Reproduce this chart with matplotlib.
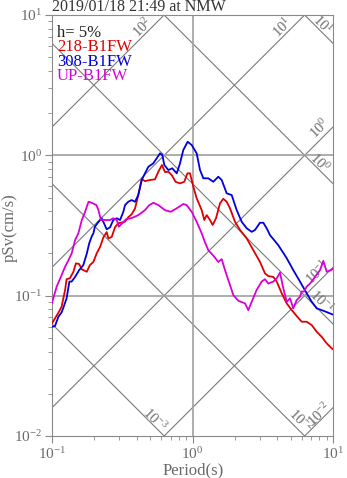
import matplotlib
matplotlib.use("Agg")
import matplotlib.pyplot as plt
import numpy as np

plt.rcParams["font.family"] = ["Liberation Serif", "DejaVu Serif"]
plt.rcParams["mathtext.fontset"] = "custom"
plt.rcParams["mathtext.rm"] = "Liberation Serif"
plt.rcParams["mathtext.it"] = "Liberation Serif:italic"
plt.rcParams["mathtext.default"] = "regular"

title = "2019/01/18 21:49 at NMW"
damping = "h= 5%"
names = ["218-B1FW", "308-B1FW", "UP-B1FW"]
colors = ["#e00000", "#0000e0", "#d800d8"]

# pseudo velocity response spectra, period (s) vs pSv (cm/s)
t_218 = [0.100, 0.105, 0.111, 0.117, 0.124, 0.127, 0.134, 0.142, 0.148, 0.156,
         0.163, 0.177, 0.186, 0.197, 0.208, 0.220, 0.232, 0.245, 0.252, 0.266,
         0.281, 0.296, 0.313, 0.331, 0.349, 0.369, 0.390, 0.411, 0.435, 0.459,
         0.498, 0.541, 0.571, 0.606, 0.637, 0.673, 0.714, 0.757, 0.815, 0.874,
         0.920, 0.960, 1.013, 1.071, 1.163, 1.213, 1.262, 1.332, 1.392, 1.470,
         1.569, 1.656, 1.751, 1.849, 2.007, 2.178, 2.431, 2.709, 3.023, 3.281,
         3.463, 3.759, 3.975, 4.314, 4.682, 5.083, 5.516, 5.987, 6.498, 7.054,
         7.656, 8.310, 9.021, 9.789, 10.0]
sv_218 = [0.0635, 0.0689, 0.0755, 0.0834, 0.110, 0.131, 0.133, 0.148, 0.170, 0.168,
          0.154, 0.148, 0.165, 0.174, 0.200, 0.223, 0.260, 0.284, 0.256, 0.262,
          0.308, 0.328, 0.332, 0.337, 0.362, 0.380, 0.418, 0.521, 0.676, 0.655,
          0.667, 0.675, 0.764, 0.853, 0.760, 0.764, 0.720, 0.648, 0.631, 0.648,
          0.744, 0.744, 0.600, 0.494, 0.407, 0.346, 0.375, 0.346, 0.319, 0.356,
          0.455, 0.490, 0.467, 0.419, 0.336, 0.294, 0.256, 0.211, 0.174, 0.144,
          0.138, 0.136, 0.126, 0.104, 0.0881, 0.0789, 0.0716, 0.0652, 0.0652, 0.0617,
          0.0553, 0.0509, 0.0457, 0.0421, 0.0415]

t_308 = [0.100, 0.105, 0.111, 0.117, 0.120, 0.127, 0.133, 0.138, 0.146, 0.156,
         0.167, 0.177, 0.184, 0.192, 0.197, 0.202, 0.214, 0.226, 0.245, 0.259,
         0.273, 0.289, 0.305, 0.322, 0.331, 0.349, 0.369, 0.390, 0.411, 0.435,
         0.459, 0.485, 0.526, 0.556, 0.587, 0.610, 0.630, 0.673, 0.718, 0.772,
         0.815, 0.860, 0.924, 0.987, 1.071, 1.131, 1.194, 1.296, 1.406, 1.526,
         1.614, 1.751, 1.901, 2.063, 2.240, 2.431, 2.639, 2.785, 3.023, 3.191,
         3.374, 3.561, 4.080, 4.682, 5.217, 5.822, 6.498, 7.054, 7.656, 8.531,
         9.789, 10.0]
sv_308 = [0.0600, 0.0607, 0.0707, 0.0760, 0.0812, 0.0957, 0.126, 0.126, 0.136, 0.152,
          0.165, 0.200, 0.236, 0.265, 0.278, 0.310, 0.335, 0.356, 0.297, 0.307,
          0.346, 0.356, 0.346, 0.396, 0.442, 0.467, 0.480, 0.467, 0.521, 0.667,
          0.744, 0.829, 0.877, 0.952, 1.033, 1.005, 0.853, 0.786, 0.808, 0.744,
          0.877, 1.091, 1.250, 1.184, 1.033, 0.786, 0.686, 0.686, 0.648, 0.704,
          0.667, 0.536, 0.521, 0.407, 0.336, 0.302, 0.285, 0.294, 0.331, 0.331,
          0.302, 0.270, 0.229, 0.185, 0.152, 0.126, 0.104, 0.0905, 0.0812, 0.0781,
          0.0739, 0.0733]

t_up = [0.100, 0.108, 0.117, 0.124, 0.131, 0.138, 0.146, 0.154, 0.163, 0.172,
        0.182, 0.192, 0.207, 0.214, 0.223, 0.238, 0.259, 0.273, 0.289, 0.299,
        0.318, 0.336, 0.359, 0.379, 0.411, 0.459, 0.493, 0.526, 0.571, 0.637,
        0.700, 0.772, 0.860, 0.909, 0.987, 1.071, 1.163, 1.227, 1.296, 1.406,
        1.526, 1.614, 1.703, 1.849, 1.952, 2.118, 2.364, 2.496, 2.639, 2.864,
        3.108, 3.281, 3.463, 3.759, 3.975, 4.195, 4.428, 4.682, 4.943, 5.217,
        5.516, 5.822, 5.987, 6.217, 6.498, 6.860, 7.446, 8.082, 8.531, 9.021,
        9.789, 10.0]
sv_up = [0.0890, 0.116, 0.140, 0.161, 0.179, 0.200, 0.249, 0.278, 0.346, 0.396,
         0.467, 0.459, 0.442, 0.407, 0.346, 0.346, 0.346, 0.356, 0.346, 0.310,
         0.330, 0.350, 0.355, 0.361, 0.375, 0.407, 0.442, 0.459, 0.442, 0.407,
         0.396, 0.419, 0.450, 0.442, 0.396, 0.336, 0.278, 0.240, 0.211, 0.193,
         0.174, 0.182, 0.152, 0.119, 0.101, 0.0920, 0.0881, 0.0789, 0.0905, 0.110,
         0.126, 0.131, 0.122, 0.126, 0.133, 0.146, 0.113, 0.0905, 0.0957, 0.0812,
         0.0930, 0.0982, 0.107, 0.107, 0.116, 0.122, 0.136, 0.152, 0.177, 0.148,
         0.153, 0.156]

# tripartite grid: displacement (cm) and acceleration (cm/s^2) levels
disp_levels = [1e-3, 1e-2, 1e-1, 1e0, 1e1]
acc_levels = [1e-2, 1e-1, 1e0, 1e1, 1e2]

W, H = 347, 478
fig = plt.figure(figsize=(W / 100, H / 100), dpi=100)
ax = fig.add_axes([52 / W, 1 - 436 / H, 281 / W, 421 / H])
ax.set_xscale("log")
ax.set_yscale("log")
ax.set_xlim(0.1, 10)
ax.set_ylim(0.01, 10)

diag_col = "#7a7a7a"
grid_col = "#a0a0a0"
text_col = "#6a6a6a"

tt = np.logspace(-1, 1, 300)
for d in disp_levels:
    ax.plot(tt, 2 * np.pi * d / tt, color=diag_col, lw=0.8, zorder=1)
for a in acc_levels:
    ax.plot(tt, a * tt / (2 * np.pi), color=diag_col, lw=0.8, zorder=1)

ax.axvline(1.0, color=grid_col, lw=1.2, zorder=1)
for v in [0.1, 1.0]:
    ax.axhline(v, color=grid_col, lw=1.2, zorder=1)


def exp_label(v):
    return r"$10^{%d}$" % int(round(np.log10(v)))


# labels sit just above their line: (kind, level, period, offset px)
diag_labels = [
    ("a", 1e2, 0.478, 6.4), ("a", 1e1, 4.73, 6.1), ("d", 1e1, 7.86, 5.2),
    ("a", 1e0, 8.89, 8.2), ("d", 1e0, 7.57, 5.6), ("a", 1e-1, 8.49, 7.1),
    ("d", 1e-1, 7.57, 8.0), ("d", 1e-3, 0.511, 4.9), ("d", 1e-2, 5.37, 8.0),
    ("a", 1e-2, 8.53, 4.7),
]
for kind, lev, t, off in diag_labels:
    k = off * 0.72 / np.sqrt(2)
    if kind == "a":
        sv = lev * t / (2 * np.pi)
        rot, dx, dy = 45, -k, k
    else:
        sv = 2 * np.pi * lev / t
        rot, dx, dy = -45, k, k
    ax.annotate(exp_label(lev), xy=(t, sv), xytext=(dx, dy), textcoords="offset points",
                rotation=rot, rotation_mode="anchor", ha="center", va="center",
                fontsize=10.5, color=text_col, zorder=2)

for t, sv, name, c in zip([t_218, t_308, t_up], [sv_218, sv_308, sv_up], names, colors):
    ax.plot(t, sv, color=c, lw=1.3, zorder=3, label=name)

# header block in the upper-left corner
y0, dy_line = 0.977, 0.0345
ax.text(0.018, y0, damping, transform=ax.transAxes, fontsize=12, color="#222222", va="top")
for i, (name, c) in enumerate(zip(names, colors)):
    ax.text(0.018, y0 - (i + 1) * dy_line, name, transform=ax.transAxes,
            fontsize=12, color=c, va="top")

for s in ax.spines.values():
    s.set_color("#8a8a8a")
ax.tick_params(which="both", direction="out", colors="#8a8a8a", labelcolor=text_col,
               top=False, right=False, labelsize=11, pad=2)
ax.tick_params(which="major", length=5)
ax.tick_params(which="minor", length=3)
ax.set_xticks([0.1, 1, 10])
ax.set_yticks([0.01, 0.1, 1, 10])

fig.text(52 / W, 1 - 11 / H, title, fontsize=11.5, color="#333333", ha="left", va="baseline")
fig.text(193 / W, 1 - 470 / H, "Period(s)", fontsize=12, color=text_col, ha="center", va="center")
fig.text(10 / W, 1 - 228 / H, "pSv(cm/s)", fontsize=12, color=text_col, ha="center",
         va="center", rotation=90)

fig.savefig("out.png", dpi=100)
